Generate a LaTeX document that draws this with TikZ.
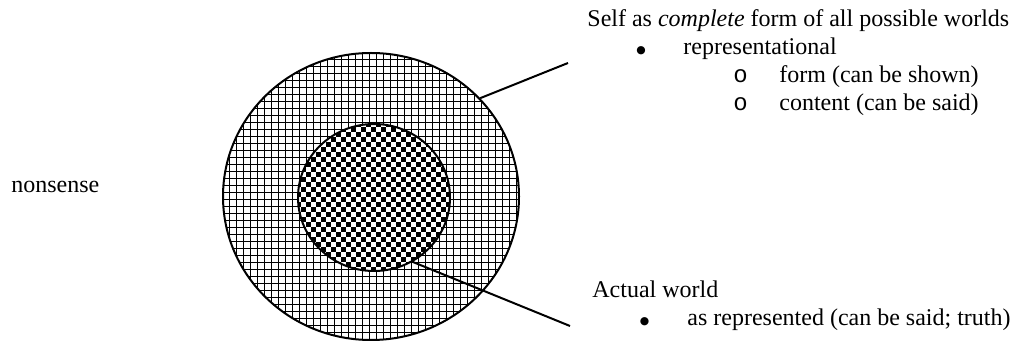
\documentclass[tikz,border=0pt]{standalone}
\usepackage{fontspec}
\setmainfont{Liberation Serif}
\newfontfamily\bulletfont{Liberation Mono}
\newfontfamily\dotfont{DejaVu Sans}
\usetikzlibrary{shapes.geometric}

\begin{document}
\begin{tikzpicture}[
    x=0.5pt, y=-0.5pt,
    txt/.style={
        anchor=base west, inner sep=0pt,
        font=\fontsize{12}{14}\selectfont
    },
    dot/.style={
        anchor=center, inner sep=0pt,
        font=\dotfont\fontsize{5.4}{6}\selectfont
    },
    ring/.style={
        ellipse, draw=black, line width=1pt, inner sep=0pt
    },
    leader/.style={draw=black, line width=1pt}
]
\useasboundingbox (0,0) rectangle (1017,341);

%% Outer circle: all possible worlds (fine grid)
\begin{scope}
    \clip (371,196.5) ellipse [x radius=148, y radius=143.5];
    \foreach \k in {0,...,43} {
        \draw[line width=0.8pt] (222.5+\k*7,40) -- (222.5+\k*7,350);
        \draw[line width=0.8pt] (215,52.5+\k*7) -- (525,52.5+\k*7);
    }
\end{scope}
\node[ring, minimum width=148pt, minimum height=143.5pt]
    (possible) at (371,196.5) {};

%% Inner circle: actual world (checkerboard)
\begin{scope}
    \clip (374,197.5) ellipse [x radius=76, y radius=73.5];
    \fill[white] (290,115) rectangle (460,280);
    \foreach \r in {0,...,31} {
        \pgfmathtruncatemacro\off{mod(\r,2)}
        \foreach \c in {0,2,...,30}
            \fill (296+\c*5+\off*5,122+\r*5) rectangle ++(5,5);
    }
\end{scope}
\node[ring, minimum width=76pt, minimum height=73.5pt]
    (actual) at (374,197.5) {};

%% Left label
\node[txt] (nonsense) at (11,193) {nonsense};

%% Upper label block
\node[txt] (selftitle) at (587,27) {Self as \textit{complete} form of all possible worlds};
\node[dot] (reprbullet) at (641,50.5) {●};
\node[txt] (repr) at (683,55) {representational};
\node[txt] (formbullet) at (733,83) {\bulletfont o};
\node[txt] (formitem) at (779,83) {form (can be shown)};
\node[txt] (contentbullet) at (733,111) {\bulletfont o};
\node[txt] (contentitem) at (779,111) {content (can be said)};

%% Lower label block
\node[txt] (actualtitle) at (592,298) {Actual world};
\node[dot] (asrepbullet) at (644.5,321.5) {●};
\node[txt] (asrep) at (687,326) {as represented (can be said; truth)};

%% Leader lines
\coordinate (selfend) at (568,63);
\coordinate (actualend) at (570,326);
\draw[leader] (possible.42) -- (selfend);
\draw[leader] (actual.-59) -- (actualend);

\end{tikzpicture}
\end{document}
